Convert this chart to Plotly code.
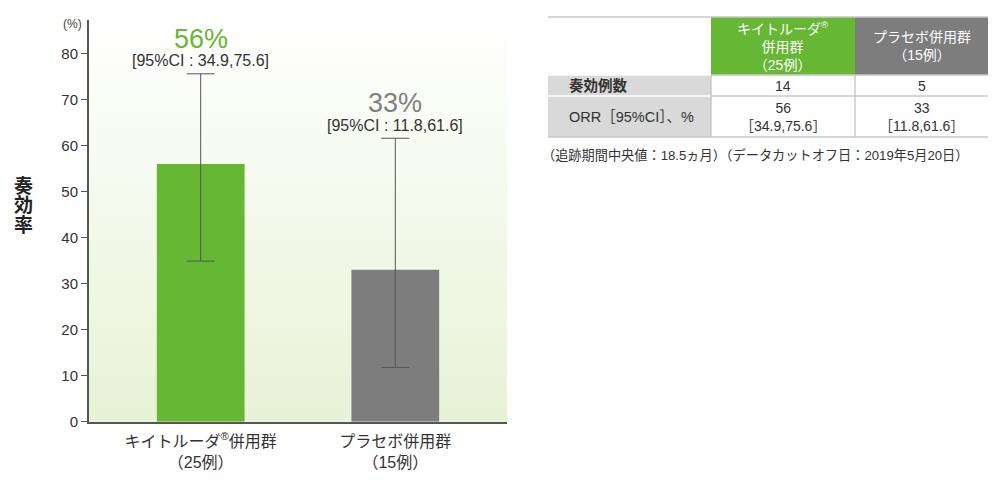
import plotly.graph_objects as go

# --- data ---
groups = ["キイトルーダ<sup>®</sup>併用群<br>（25例）", "プラセボ併用群<br>（15例）"]
orr = [56, 33]
ci_low = [34.9, 11.8]
ci_high = [75.6, 61.6]
bar_colors = ["#66b733", "#7d7d7d"]
label_colors = ["#66b733", "#808080"]

table_header = ["", "キイトルーダ<sup>®</sup><br>併用群<br>（25例）", "プラセボ併用群<br>（15例）"]
row_labels = ["<b>奏効例数</b>", "ORR［95%CI］、%"]
col_keytruda = ["14", "56<br>［34.9,75.6］"]
col_placebo = ["5", "33<br>［11.8,61.6］"]
footnote = "（追跡期間中央値：18.5ヵ月）（データカットオフ日：2019年5月20日）"
y_title = "奏効率"

FONT = "Liberation Sans, Noto Sans CJK JP, sans-serif"
W, H = 1000, 491
OFF = 8  # page body margin around the plot div
x_pos = list(range(len(groups)))
x_range = [-0.574, 1.574]
y_range = [0, 87.3]


def px(x):
    return (x - OFF) / W


def py(y):
    return 1 - (y - OFF) / H


fig = go.Figure()

# gradient background on the base axes, bars on an overlay so they sit on top
fig.add_trace(go.Scatter(
    x=[x_range[0], x_range[1], x_range[1], x_range[0], x_range[0]],
    y=[y_range[0], y_range[0], y_range[1], y_range[1], y_range[0]],
    mode="lines", line=dict(width=0), fill="toself",
    fillgradient=dict(type="vertical", colorscale=[[0, "#e8f2d6"], [1, "#ffffff"]]),
    hoverinfo="skip", showlegend=False,
))

fig.add_trace(go.Bar(
    x=x_pos, y=orr, width=0.451, xaxis="x2", yaxis="y2",
    marker=dict(color=bar_colors, line=dict(width=0)),
    error_y=dict(
        type="data", symmetric=False,
        array=[h - v for h, v in zip(ci_high, orr)],
        arrayminus=[v - lo for lo, v in zip(ci_low, orr)],
        color="#555555", thickness=1, width=14,
    ),
    showlegend=False,
))

for i in x_pos:
    fig.add_annotation(
        xref="x2", yref="y2", x=i, y=ci_high[i],
        text=f"[95%CI : {ci_low[i]},{ci_high[i]}]",
        showarrow=False, yanchor="middle", yshift=13,
        font=dict(family=FONT, size=16, color="#333333"),
    )
    fig.add_annotation(
        xref="x2", yref="y2", x=i, y=ci_high[i], text=f"{orr[i]}%",
        showarrow=False, yanchor="middle", yshift=35,
        font=dict(family=FONT, size=27, color=label_colors[i]),
    )

# --- table (drawn with shapes + text) ---
col_edges = [548, 711, 855, 988]
row_edges = [17, 75, 96, 137]
header_fills = ["#ffffff", "#66b733", "#7d7d7d"]
body_fills = ["#d9d9d9", "#ffffff", "#ffffff"]
grid = "#c8c8c8"

for c in range(3):
    x0, x1 = col_edges[c], col_edges[c + 1]
    fig.add_shape(type="rect", xref="paper", yref="paper",
                  x0=px(x0), x1=px(x1), y0=py(row_edges[0]), y1=py(row_edges[1]),
                  fillcolor=header_fills[c], line_width=0, layer="below")
    fig.add_shape(type="rect", xref="paper", yref="paper",
                  x0=px(x0), x1=px(x1), y0=py(row_edges[1]), y1=py(row_edges[-1]),
                  fillcolor=body_fills[c], line_width=0, layer="below")
    if c > 0:
        fig.add_annotation(
            xref="paper", yref="paper", x=px((x0 + x1) / 2),
            y=py((row_edges[0] + row_edges[1]) / 2),
            text=table_header[c], showarrow=False, align="center",
            xanchor="center", yanchor="middle",
            font=dict(family=FONT, size=14, color="white"),
        )

# horizontal rules
for r, y in enumerate(row_edges):
    if r in (0, len(row_edges) - 1):
        fig.add_shape(type="line", xref="paper", yref="paper",
                      x0=px(col_edges[0]), x1=px(col_edges[-1]), y0=py(y), y1=py(y),
                      line=dict(color=grid, width=1.5))
    else:
        fig.add_shape(type="line", xref="paper", yref="paper",
                      x0=px(col_edges[0]), x1=px(col_edges[1]), y0=py(y), y1=py(y),
                      line=dict(color="#ffffff", width=1.5))
        fig.add_shape(type="line", xref="paper", yref="paper",
                      x0=px(col_edges[1]), x1=px(col_edges[-1]), y0=py(y), y1=py(y),
                      line=dict(color=grid, width=1.5))
# vertical rules in body
for x in col_edges[1:3]:
    fig.add_shape(type="line", xref="paper", yref="paper",
                  x0=px(x), x1=px(x), y0=py(row_edges[1]), y1=py(row_edges[-1]),
                  line=dict(color=grid, width=1.5))

body_cols = [row_labels, col_keytruda, col_placebo]
for r in range(len(row_labels)):
    yc = py((row_edges[r + 1] + row_edges[r + 2]) / 2)
    fig.add_annotation(
        xref="paper", yref="paper", x=px(col_edges[0] + 19), y=yc,
        text=row_labels[r], showarrow=False, xanchor="left", yanchor="middle",
        font=dict(family=FONT, size=14.5, color="#333333"),
    )
    for c in (1, 2):
        fig.add_annotation(
            xref="paper", yref="paper", x=px((col_edges[c] + col_edges[c + 1]) / 2), y=yc,
            text=body_cols[c][r], showarrow=False, align="center",
            xanchor="center", yanchor="middle",
            font=dict(family=FONT, size=14, color="#333333"),
        )

fig.add_annotation(
    xref="paper", yref="paper", x=px(540), y=py(155), xanchor="left", yanchor="middle",
    text=footnote, showarrow=False,
    font=dict(family=FONT, size=13.2, color="#333333"),
)

# y-axis title (stacked characters) and unit
for k, ch in enumerate(y_title):
    fig.add_annotation(
        xref="paper", yref="paper", x=px(23), y=py(186 + 19.5 * k),
        xanchor="center", yanchor="middle",
        text=f"<b>{ch}</b>", showarrow=False,
        font=dict(family=FONT, size=19, color="#222222"),
    )
fig.add_annotation(
    xref="paper", yref="paper", x=px(84), y=py(24), xanchor="right", yanchor="middle",
    text="(%)", showarrow=False,
    font=dict(family=FONT, size=12, color="#444444"),
)

x_dom = [px(89), px(507)]
y_dom = [py(421.7), py(20)]
fig.update_layout(
    width=W, height=H,
    margin=dict(l=0, r=0, t=0, b=0),
    paper_bgcolor="white", plot_bgcolor="rgba(0,0,0,0)",
    font=dict(family=FONT, color="#333333"),
    xaxis=dict(
        domain=x_dom, range=x_range, automargin=False,
        tickmode="array", tickvals=x_pos, ticktext=groups,
        tickfont=dict(family=FONT, size=16, color="#333333"),
        ticklabelstandoff=4,
        showgrid=False, zeroline=False,
        showline=True, linecolor="#555555", linewidth=2, ticks="",
    ),
    yaxis=dict(
        domain=y_dom, range=y_range, automargin=False,
        tickmode="array", tickvals=list(range(0, 90, 10)),
        tickfont=dict(family=FONT, size=15, color="#333333"),
        showgrid=False, zeroline=False,
        showline=True, linecolor="#555555", linewidth=2,
        ticks="outside", ticklen=6, tickcolor="#555555", tickwidth=1,
    ),
    xaxis2=dict(domain=x_dom, range=x_range, overlaying="x", visible=False),
    yaxis2=dict(domain=y_dom, range=y_range, overlaying="y", visible=False),
)

fig.write_html("out.html")
